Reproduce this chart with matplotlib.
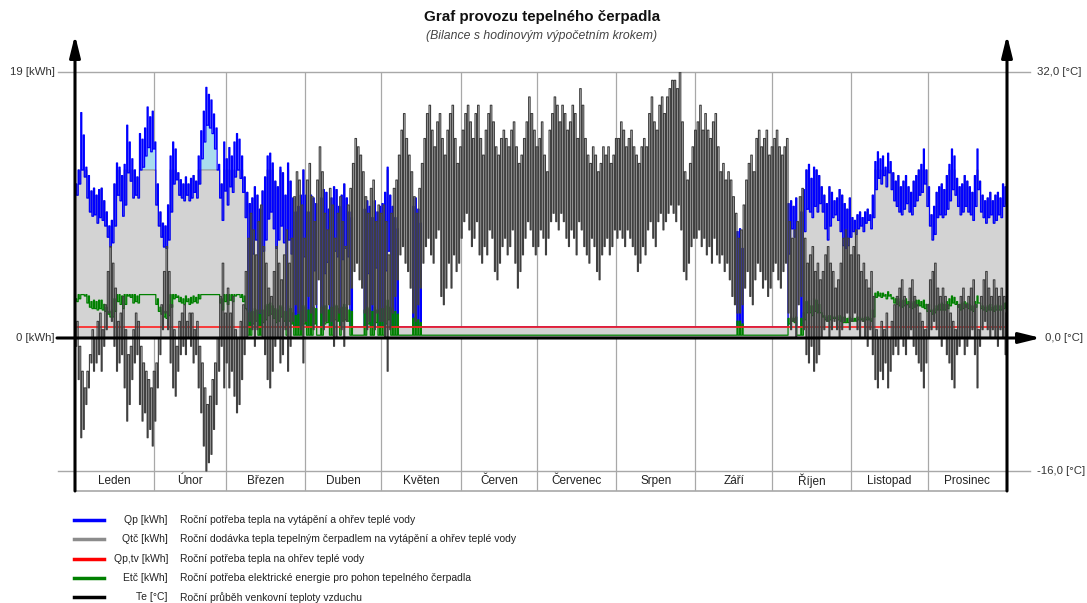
import numpy as np
import matplotlib.pyplot as plt

plt.rcParams['font.family'] = ['Liberation Sans', 'DejaVu Sans']

months = ['Leden', 'Únor', 'Březen', 'Duben', 'Květen', 'Červen',
          'Červenec', 'Srpen', 'Září', 'Říjen', 'Listopad', 'Prosinec']
month_len = [31, 28, 31, 30, 31, 30, 31, 31, 30, 31, 30, 31]

# outdoor temperature Te [°C] - night minimum and afternoon maximum of each day
te_min = (
    [-1, -5, -12, -11, -8, -6, -3, -4, -3, -2, -4, -1, 1, 3, 2, -1, -4, -3, -2, -6, -10, -8, -5, -3, -2, -8, -10, -9, -12, -11, -13]
    + [-10, -6, -2, 1, 3, 1, -3, -6, -7, -4, -2, -1, -2, 0, -1, -3, -2, -6, -9, -13, -16, -15, -14, -11, -8, -4, -1, -6]
    + [-3, -6, -4, -7, -9, -8, -5, -2, 0, 2, 1, -1, 1, 3, 0, -2, -5, -6, -4, -1, 0, -3, -2, 1, -4, -1, 2, 4, 3, 1, -3]
    + [2, 5, 3, 1, 4, 7, 3, 1, 2, 4, 2, -1, 0, 3, 1, -1, 2, 4, 6, 8, 9, 7, 6, 3, 1, 2, 4, 1, 3, 2]
    + [2, 0, -4, 1, 3, 5, 7, 10, 11, 9, 8, 6, 3, 2, 4, 6, 9, 11, 12, 10, 9, 12, 13, 5, 4, 6, 9, 6, 10, 8, 9]
    + [12, 14, 15, 13, 11, 12, 14, 10, 9, 11, 10, 13, 12, 8, 7, 9, 11, 12, 10, 11, 13, 9, 6, 8, 10, 12, 14, 13, 11, 10]
    + [11, 13, 12, 10, 12, 14, 15, 14, 13, 15, 14, 12, 11, 13, 12, 10, 14, 13, 11, 10, 9, 12, 11, 8, 7, 10, 11, 12, 10, 11, 13]
    + [12, 13, 12, 11, 13, 12, 11, 10, 8, 9, 11, 10, 13, 14, 12, 11, 14, 15, 13, 14, 15, 16, 15, 14, 16, 13, 8, 7, 9, 11, 12]
    + [12, 13, 11, 12, 10, 11, 9, 12, 10, 9, 10, 8, 9, 7, 5, 4, 3, 3, 4, 6, 8, 5, 4, 7, 9, 8, 6, 7, 5, 6]
    + [8, 9, 7, 6, 8, 9, 3, 1, 2, 0, 4, 5, 1, -2, -3, -1, -4, -3, -2, 0, 1, 2, 0, 1, 2, 1, 0, 1, 2, 3, 1]
    + [2, 3, 1, 0, 2, 0, -1, 1, -2, -5, -6, -4, -5, -3, -6, -4, -2, -1, -2, 0, -1, -2, 0, 1, -1, -2, -3, -4, -6, -3]
    + [0, 1, 2, 1, 0, -1, 0, -2, -3, -5, -6, -2, -1, 0, -2, -1, 0, 1, -2, -6, -1, 1, 2, 1, 0, 1, 0, -1, 1, 0, -2]
)
te_max = (
    [2, -1, -4, -6, -4, -2, 1, 0, 2, 3, 1, 4, 8, 11, 9, 6, 2, 3, 5, 1, -2, -1, 1, 3, 2, -1, -3, -4, -5, -6, -4]
    + [-3, 0, 4, 8, 11, 8, 4, 1, -1, 2, 3, 4, 2, 3, 3, 1, 2, -1, -3, -6, -8, -7, -5, -3, 0, 5, 9, 3]
    + [6, 3, 5, 1, 0, 2, 4, 8, 12, 15, 13, 10, 14, 16, 11, 9, 6, 5, 8, 11, 9, 7, 10, 13, 9, 12, 17, 20, 19, 16, 12]
    + [19, 21, 17, 14, 19, 23, 20, 15, 13, 18, 16, 12, 15, 17, 14, 11, 16, 18, 21, 24, 23, 22, 20, 17, 15, 18, 19, 14, 16, 15]
    + [16, 14, 10, 15, 18, 19, 22, 25, 27, 24, 22, 20, 17, 15, 18, 21, 24, 27, 28, 25, 23, 26, 27, 24, 22, 25, 27, 28, 24, 21, 23]
    + [25, 27, 28, 26, 24, 27, 28, 24, 22, 25, 27, 28, 26, 23, 22, 24, 25, 24, 23, 25, 26, 23, 21, 22, 24, 26, 29, 27, 25, 23]
    + [24, 26, 22, 20, 25, 27, 29, 28, 26, 28, 27, 25, 26, 28, 27, 24, 30, 28, 24, 22, 21, 23, 22, 20, 21, 23, 22, 23, 21, 22, 24]
    + [24, 26, 25, 23, 24, 25, 23, 22, 21, 23, 24, 23, 27, 29, 26, 25, 28, 29, 27, 29, 30, 31, 31, 30, 32, 26, 20, 19, 21, 23, 25]
    + [26, 28, 25, 27, 25, 24, 26, 27, 23, 20, 21, 19, 20, 19, 17, 15, 12, 13, 16, 19, 21, 22, 20, 24, 25, 23, 24, 25, 22, 23]
    + [24, 25, 23, 22, 23, 24, 14, 12, 13, 14, 17, 18, 12, 9, 10, 11, 8, 9, 7, 8, 10, 11, 9, 8, 6, 7, 9, 12, 13, 12, 10]
    + [11, 13, 10, 8, 9, 7, 6, 8, 5, 1, 0, 2, 1, 3, 0, 2, 4, 5, 6, 7, 5, 4, 6, 7, 5, 4, 3, 2, 1, 4]
    + [7, 8, 9, 6, 5, 6, 5, 4, 3, 2, 1, 4, 5, 6, 4, 5, 6, 7, 4, 1, 5, 7, 8, 6, 5, 7, 6, 5, 6, 5, 3]
)

# heat demand Qp [kWh] at the night hour and at the afternoon hour
qp_night = (
    [11.0, 12.0, 16.1, 14.5, 12.2, 11.6, 10.5, 10.7, 10.2, 10.6, 10.7, 9.8, 9.0, 8.0, 8.4, 11.0, 12.5, 12.2, 11.6, 12.4, 15.2, 14.0, 12.8, 12.0, 11.5, 14.6, 14.2, 15.0, 16.5, 15.8, 16.2]
    + [14.0, 11.0, 9.0, 8.2, 8.0, 9.5, 13.0, 14.0, 13.5, 11.8, 11.3, 11.0, 11.5, 11.0, 11.4, 11.6, 11.2, 13.0, 14.8, 16.2, 17.9, 17.4, 17.0, 16.0, 15.0, 12.4, 11.0, 14.0]
    + [12.8, 13.6, 13.0, 14.0, 14.6, 14.2, 13.0, 11.5, 10.4, 9.6, 10.0, 10.8, 10.2, 9.2, 10.5, 11.5, 13.0, 13.2, 12.5, 11.2, 10.8, 12.2, 11.8, 10.2, 12.5, 11.2, 10.0, 9.0, 9.4, 10.2, 12.0]
    + [10.2, 9.0, 10.2, 10.0, 9.6, 0.8, 10.0, 10.6, 10.4, 9.2, 10.0, 10.8, 10.6, 9.4, 10.2, 11.0, 10.0, 9.0, 8.6, 0.8, 0.8, 0.8, 0.8, 9.2, 9.8, 9.4, 8.6, 9.8, 9.0, 9.4]
    + [9.6, 10.4, 12.2, 10.2, 9.4, 8.6, 7.8, 0.8, 0.8, 0.8, 0.8, 0.8, 9.4, 10.0, 9.2, 8.2] + [0.8] * 15
    + [0.8] * 30
    + [0.8] * 31
    + [0.8] * 31
    + [0.8] * 16 + [7.6, 7.8, 6.4] + [0.8] * 11
    + [0.8] * 6 + [9.6, 9.8, 9.4, 10.0, 0.8, 9.0, 10.6, 12.0, 12.4, 11.4, 12.2, 12.0, 11.6, 10.8, 10.2, 9.6, 10.8, 10.4, 9.8, 10.0, 10.6, 10.2, 9.6, 9.2, 10.0]
    + [8.6, 8.4, 8.8, 9.0, 8.6, 9.0, 9.2, 8.8, 10.2, 12.6, 13.3, 12.8, 13.0, 12.2, 13.2, 12.6, 11.8, 11.2, 11.6, 10.8, 11.2, 11.6, 10.8, 10.4, 11.2, 11.6, 12.0, 12.4, 13.5, 12.0]
    + [10.8, 8.8, 9.4, 10.4, 10.8, 11.0, 10.6, 11.6, 12.4, 13.5, 13.0, 11.4, 10.8, 11.0, 11.6, 11.2, 10.8, 10.4, 11.6, 13.5, 11.2, 10.2, 9.8, 10.0, 10.4, 9.8, 10.2, 10.4, 10.0, 11.0, 10.8]
)
qp_day = (
    [10.2, 11.0, 12.0, 11.5, 10.0, 9.0, 8.7, 8.8, 8.2, 8.6, 8.4, 8.0, 7.2, 6.5, 6.8, 8.0, 10.2, 9.8, 8.7, 9.5, 11.8, 11.2, 10.0, 10.2, 10.0, 12.0, 12.2, 13.0, 13.6, 13.3, 13.5]
    + [9.5, 8.0, 7.2, 6.5, 6.4, 7.0, 9.0, 11.0, 11.3, 10.2, 10.0, 9.8, 10.2, 9.8, 10.0, 10.4, 10.0, 11.0, 12.8, 14.0, 15.2, 15.0, 14.6, 13.5, 12.0, 10.0, 8.4, 10.5]
    + [9.5, 10.8, 10.4, 11.5, 12.0, 11.4, 10.4, 8.6, 0.8, 0.8, 6.0, 7.0, 0.8, 0.8, 6.2, 7.0, 8.5, 9.0, 7.8, 6.4, 7.0, 8.0, 6.8, 0.8, 7.0, 6.0, 0.8, 0.8, 0.8, 0.8, 5.8]
    + [0.8, 0.8, 0.8, 4.8, 0.8, 0.8, 0.8, 4.6, 5.4, 0.8, 0.8, 6.2, 5.8, 0.8, 5.6, 6.4, 5.8, 0.8, 0.8, 0.8, 0.8, 0.8, 0.8, 0.8, 4.6, 0.8, 0.8, 5.0, 0.8, 0.8]
    + [0.8, 4.8, 6.2] + [0.8] * 28
    + [0.8] * 30
    + [0.8] * 31
    + [0.8] * 31
    + [0.8] * 30
    + [0.8] * 6 + [6.0, 7.8, 7.2, 0.8, 0.8, 0.8, 7.6, 9.2, 9.0, 8.6, 9.4, 9.0, 9.6, 9.0, 7.8, 7.0, 8.0, 8.6, 8.8, 8.4, 7.6, 6.6, 6.4, 6.6, 7.2]
    + [7.6, 7.4, 7.8, 8.0, 7.6, 8.2, 8.4, 7.8, 8.6, 10.6, 11.4, 11.0, 11.6, 10.8, 11.8, 10.6, 9.8, 9.4, 9.0, 8.8, 9.2, 9.6, 9.0, 8.8, 9.4, 9.8, 10.2, 10.4, 11.0, 9.4]
    + [8.0, 7.0, 7.4, 8.6, 8.8, 8.6, 8.8, 9.2, 9.8, 10.6, 10.2, 9.4, 8.8, 9.0, 9.4, 9.0, 8.8, 8.4, 9.4, 10.6, 9.0, 8.6, 8.2, 8.6, 8.8, 8.2, 8.4, 8.8, 8.6, 9.4, 9.6]
)

# electricity for the heat pump drive Etč [kWh]
etc_night = (
    [2.8, 3.1, 3.1, 3.1, 3.1, 3.0, 2.6, 2.7, 2.6, 2.7, 2.7, 2.4, 2.2, 1.9, 2.0, 2.8, 3.1, 3.1, 3.0, 3.1, 3.1, 3.1, 3.1, 3.1, 3.0, 3.1, 3.1, 3.1, 3.1, 3.1, 3.1]
    + [3.1, 2.8, 2.2, 2.0, 1.9, 2.4, 3.1, 3.1, 3.1, 3.0, 2.9, 2.8, 3.0, 2.8, 2.9, 3.0, 2.9, 3.1, 3.1, 3.1, 3.1, 3.1, 3.1, 3.1, 3.1, 3.1, 2.8, 3.1]
    + [3.1, 3.1, 3.1, 3.1, 3.1, 3.1, 3.1, 3.0, 2.0, 1.8, 1.9, 2.1, 2.0, 1.7, 2.0, 2.3, 2.4, 2.5, 2.3, 2.1, 2.0, 2.3, 2.2, 1.9, 2.3, 2.1, 1.8, 1.6, 1.7, 1.9, 2.3]
    + [2.2, 2.0, 2.2, 2.2, 2.1, 0.2, 2.2, 2.3, 2.3, 2.0, 2.2, 2.4, 2.3, 2.1, 2.2, 2.4, 2.2, 2.0, 1.9, 0.2, 0.2, 0.2, 0.2, 2.0, 2.2, 2.1, 1.9, 2.2, 2.0, 2.1]
    + [2.1, 2.3, 2.7, 2.2, 2.1, 1.9, 1.7, 0.2, 0.2, 0.2, 0.2, 0.2, 1.4, 1.5, 1.3, 1.1] + [0.2] * 15
    + [0.2] * 30
    + [0.2] * 31
    + [0.2] * 31
    + [0.2] * 16 + [1.2, 1.2, 1.0] + [0.2] * 11
    + [0.2] * 6 + [1.4, 1.5, 1.4, 1.5, 0.2, 1.4, 1.8, 2.6, 2.7, 2.3, 2.8, 2.7, 2.4, 1.8, 1.6, 1.5, 1.6, 1.6, 1.5, 1.5, 1.6, 1.5, 1.5, 1.4, 1.5]
    + [1.4, 1.4, 1.5, 1.5, 1.4, 1.5, 1.5, 1.4, 2.0, 3.2, 3.3, 3.2, 3.2, 3.1, 3.3, 3.1, 2.9, 2.8, 2.8, 2.6, 2.7, 2.8, 2.6, 2.5, 2.6, 2.7, 2.7, 2.6, 2.7, 2.4]
    + [2.4, 2.0, 2.1, 2.3, 2.4, 2.5, 2.4, 2.6, 2.8, 3.0, 2.9, 2.6, 2.4, 2.5, 2.6, 2.5, 2.4, 2.3, 2.6, 3.0, 2.5, 2.3, 2.2, 2.3, 2.4, 2.2, 2.3, 2.4, 2.3, 2.5, 2.5]
)
etc_day = (
    [2.6, 2.8, 3.1, 3.0, 2.5, 2.2, 2.1, 2.1, 2.0, 2.1, 2.0, 1.9, 1.7, 1.5, 1.5, 1.9, 2.6, 2.4, 2.1, 2.4, 3.0, 2.9, 2.5, 2.6, 2.5, 3.1, 3.1, 3.1, 3.1, 3.1, 3.1]
    + [2.4, 1.9, 1.7, 1.5, 1.4, 1.6, 2.2, 2.8, 2.9, 2.6, 2.5, 2.4, 2.6, 2.4, 2.5, 2.6, 2.5, 2.8, 3.1, 3.1, 3.1, 3.1, 3.1, 3.1, 3.1, 2.5, 2.0, 2.6]
    + [2.4, 2.7, 2.6, 3.0, 3.1, 2.9, 2.6, 2.1, 0.2, 0.2, 1.0, 1.2, 0.2, 0.2, 1.1, 1.3, 1.6, 1.7, 1.4, 1.1, 1.2, 1.5, 1.2, 0.2, 1.2, 1.0, 0.2, 0.2, 0.2, 0.2, 1.0]
    + [0.2, 0.2, 0.2, 1.0, 0.2, 0.2, 0.2, 1.0, 1.1, 0.2, 0.2, 1.3, 1.2, 0.2, 1.2, 1.3, 1.2, 0.2, 0.2, 0.2, 0.2, 0.2, 0.2, 0.2, 1.0, 0.2, 0.2, 1.1, 0.2, 0.2]
    + [0.2, 1.0, 1.3] + [0.2] * 28
    + [0.2] * 30
    + [0.2] * 31
    + [0.2] * 31
    + [0.2] * 30
    + [0.2] * 6 + [1.0, 1.2, 1.1, 0.2, 0.2, 0.2, 1.3, 1.8, 1.8, 1.6, 1.9, 1.8, 1.8, 1.5, 1.3, 1.2, 1.3, 1.4, 1.4, 1.3, 1.2, 1.1, 1.1, 1.1, 1.2]
    + [1.2, 1.2, 1.3, 1.3, 1.2, 1.3, 1.3, 1.2, 1.5, 2.9, 3.0, 2.9, 3.0, 2.8, 3.0, 2.8, 2.5, 2.4, 2.3, 2.2, 2.3, 2.4, 2.2, 2.1, 2.2, 2.3, 2.3, 2.2, 2.1, 1.9]
    + [1.9, 1.7, 1.8, 2.0, 2.0, 2.0, 2.0, 2.1, 2.3, 2.5, 2.4, 2.2, 2.0, 2.1, 2.2, 2.1, 2.0, 1.9, 2.2, 2.5, 2.1, 2.0, 1.9, 2.0, 2.0, 1.9, 2.0, 2.0, 2.0, 2.1, 2.2]
)

qp_tv = 0.8      # hot water demand [kWh], flat over the year
qtc_max = 12.0   # heat pump output limit [kWh]

legend_rows = [
    ('#0000ff', 'Qp [kWh]', 'Roční potřeba tepla na vytápění a ohřev teplé vody'),
    ('#8c8c8c', 'Qtč [kWh]', 'Roční dodávka tepla tepelným čerpadlem na vytápění a ohřev teplé vody'),
    ('#ff0000', 'Qp,tv [kWh]', 'Roční potřeba tepla na ohřev teplé vody'),
    ('#008000', 'Etč [kWh]', 'Roční potřeba elektrické energie pro pohon tepelného čerpadla'),
    ('#000000', 'Te [°C]', 'Roční průběh venkovní teploty vzduchu'),
]

# two samples per day: early morning and afternoon
day = np.arange(365)
x = np.column_stack([day + 0.25, day + 0.65]).ravel()
te = np.column_stack([te_min, te_max]).ravel()
qp = np.column_stack([qp_night, qp_day]).ravel()
etc = np.column_stack([etc_night, etc_day]).ravel()
qtc = np.minimum(qp, qtc_max)

W, H = 1087, 603
fig = plt.figure(figsize=(W / 100, H / 100), dpi=100)
px_l, px_r = 75, 1007
px_top, px_bot, px_zero = 72, 491, 338
q_bot = -(px_bot - px_zero) / 14.0
ax = fig.add_axes([px_l / W, 1 - px_bot / H, (px_r - px_l) / W, (px_bot - px_top) / H])
ax.set_xlim(0, 365)
ax.set_ylim(q_bot, 19)
ax2 = ax.twinx()
ax2.set_ylim(q_bot * 32 / 19, 32)
for a in (ax, ax2):
    a.axis('off')

axw = px_r - px_l
axh = px_bot - px_top
grid_c = '#a8a8a8'
ytr = ax.get_yaxis_transform()

# horizontal limits and the month strip
for q in (19, -9.5):
    ax.plot([-17 / axw, 1 + 23 / axw], [q, q], transform=ytr, color=grid_c, lw=1, clip_on=False, zorder=1)
ax.plot([0, 1], [q_bot, q_bot], transform=ytr, color=grid_c, lw=1.2, clip_on=False, zorder=1)
bounds = np.cumsum([0] + month_len)
ax.vlines(bounds[1:-1], q_bot, 19, color=grid_c, lw=0.9, zorder=1)
for i, name in enumerate(months):
    ax.text((bounds[i] + bounds[i + 1]) / 2, (q_bot - 9.5) / 2, name,
            ha='center', va='center', fontsize=8.5, color='#222222')

# energy series, drawn as hourly steps
ax.fill_between(x, 0, qtc, step='post', color='#d3d3d3', lw=0, zorder=2)
ax.fill_between(x, qtc_max, qp, where=qp > qtc_max, step='post', color='#a9dcee', lw=0, zorder=2)
ax.plot(x, qtc, drawstyle='steps-post', color='#8c8c8c', lw=0.8, zorder=3)
ax.plot(x, qp, drawstyle='steps-post', color='#0000ff', lw=0.9, zorder=4)
ax.plot(x, etc, drawstyle='steps-post', color='#008000', lw=0.9, zorder=5)
ax.plot([0, 365], [qp_tv, qp_tv], color='#ff2020', lw=1.2, zorder=6)

# outdoor temperature
ax2.plot(x, te, drawstyle='steps-post', color='#404040', lw=0.8, zorder=3)

# axes with arrows
zero_frac = (px_bot - px_zero) / axh
arrow = dict(arrowstyle='-|>,head_length=1.3,head_width=0.32', color='black', lw=2.2,
             shrinkA=0, shrinkB=0, mutation_scale=10)
top_frac = (px_bot - 35) / axh
for xf in (0, 1):
    ax2.annotate('', xy=(xf, top_frac), xytext=(xf, 0), xycoords='axes fraction',
                 arrowprops=arrow, annotation_clip=False, zorder=10)
ax2.annotate('', xy=(1 + 34 / axw, zero_frac), xytext=(-18 / axw, zero_frac),
             xycoords='axes fraction', arrowprops=arrow, annotation_clip=False, zorder=10)

# axis captions
lab = dict(fontsize=8.2, color='#333333', va='center')
fig.text(55 / W, 1 - 72 / H, '19 [kWh]', ha='right', **lab)
fig.text(55 / W, 1 - 338 / H, '0 [kWh]', ha='right', **lab)
fig.text(1037 / W, 1 - 72 / H, '32,0 [°C]', ha='left', **lab)
fig.text(1045 / W, 1 - 338 / H, '0,0 [°C]', ha='left', **lab)
fig.text(1037 / W, 1 - 471 / H, '-16,0 [°C]', ha='left', **lab)

# titles
fig.text(542 / W, 1 - 17 / H, 'Graf provozu tepelného čerpadla', ha='center', va='center',
         fontsize=10.9, fontweight='bold', color='#111111')
fig.text(542 / W, 1 - 36 / H, '(Bilance s hodinovým výpočetním krokem)', ha='center', va='center',
         fontsize=8.8, style='italic', color='#444444')

# legend
for i, (col, short, desc) in enumerate(legend_rows):
    yy = 1 - (520 + i * 19.3) / H
    fig.add_artist(plt.Line2D([74 / W, 104 / W], [yy, yy], color=col, lw=2.5))
    fig.text(168 / W, yy, short, ha='right', va='center', fontsize=7.5, color='#222222')
    fig.text(180 / W, yy, desc, ha='left', va='center', fontsize=7.5, color='#222222')

fig.savefig('out.png', dpi=100, facecolor='white')
